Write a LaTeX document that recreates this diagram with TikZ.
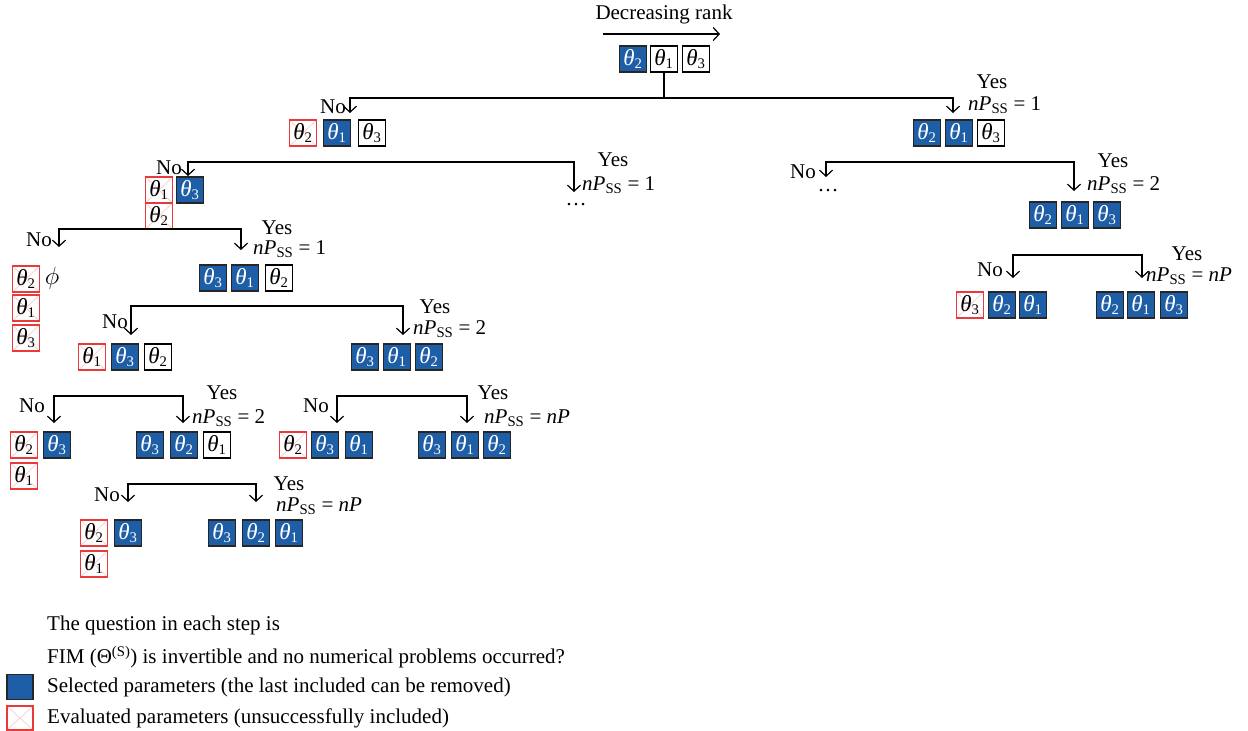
\documentclass[tikz,border=0pt]{standalone}
\usepackage{fontspec}
\setmainfont{Liberation Serif}
\usetikzlibrary{arrows.meta}
\definecolor{selblue}{RGB}{30,94,166}
\definecolor{evred}{RGB}{232,58,58}
\definecolor{evpink}{RGB}{250,196,196}
\newcommand\fsz{\fontsize{21}{25}\selectfont}
\newcommand\tht[1]{{\fontsize{23}{25}\selectfont\itshape θ\/}\textsubscript{#1}}
\newcommand\npss[1]{{\itshape nP}\textsubscript{SS}~=~#1}
\tikzset{
  bx/.style={minimum width=27pt, minimum height=26pt, inner sep=0pt, line width=1.1pt},
  sel/.style={bx, fill=selblue, draw=black!85, text=white},
  plain/.style={bx, draw=black},
  ev/.style={bx, draw=evred, path picture={\draw[evpink, line width=0.6pt]
      (path picture bounding box.south west) -- (path picture bounding box.north east)
      (path picture bounding box.north west) -- (path picture bounding box.south east);}},
  br/.style={line width=1.2pt, {Straight Barb[length=6pt,width=13pt]}-{Straight Barb[length=6pt,width=13pt]}},
  lbl/.style={inner sep=0pt},
  lgd/.style={inner sep=0pt, anchor=west},
}
\begin{document}
\begin{tikzpicture}[x=1pt,y=-1pt, every node/.style={font=\fsz}]
\useasboundingbox (0,0) rectangle (1248,731);

% title
\node[lbl] (title) at (664,14) {Decreasing rank};
\coordinate (ra) at (603,34);
\coordinate (rb) at (720,34);
\draw[line width=1.2pt, -{Straight Barb[length=6pt,width=13pt]}] (ra) -- (rb);

% top row
\node[sel]   (t2) at (633,59) {\tht{2}};
\node[plain] (t1) at (664,59) {\tht{1}};
\node[plain] (t3) at (696,59) {\tht{3}};

% branch 0
\coordinate (B0a) at (350,98); \coordinate (B0b) at (953,98);
\coordinate (B0l) at (350,113); \coordinate (B0r) at (953,113);
\draw[line width=1.2pt] (t1.south) -- (t1.south |- B0a);
\draw[br] (B0l) -- (B0a) -- (B0b) -- (B0r);
\node[lbl, anchor=east] (no0) at (346,107) {No};
\node[lbl] (yes0) at (992,82) {Yes};
\node[lbl, anchor=west] (np0) at (968,105) {\npss{1}};

% row A left
\node[ev]    (a2) at (303,133) {\tht{2}};
\node[sel]   (a1) at (337,133) {\tht{1}};
\node[plain] (a3) at (372,133) {\tht{3}};
% row A right
\node[sel]   (c2) at (927,133) {\tht{2}};
\node[sel]   (c1) at (959,133) {\tht{1}};
\node[plain] (c3) at (991,133) {\tht{3}};

% branch 1
\coordinate (B1a) at (188,162); \coordinate (B1b) at (574,162);
\coordinate (B1l) at (188,176); \coordinate (B1r) at (574,192);
\draw[br] (B1l) -- (B1a) -- (B1b) -- (B1r);
\node[lbl, anchor=east] (no1) at (182,168) {No};
\node[lbl] (yes1) at (613,160) {Yes};
\node[lbl, anchor=west] (np1) at (582,185) {\npss{1}};
\node[lbl] (dots1) at (576,205) {\dots};

\node[ev]  (d1) at (159,190) {\tht{1}};
\node[sel] (d3) at (190,190) {\tht{3}};
\node[ev]  (d2) at (159,216) {\tht{2}};

% branch 2
\coordinate (B2a) at (826,162); \coordinate (B2b) at (1074,162);
\coordinate (B2l) at (826,177); \coordinate (B2r) at (1074,191);
\draw[br] (B2l) -- (B2a) -- (B2b) -- (B2r);
\node[lbl, anchor=east] (no2) at (816,172) {No};
\node[lbl] (dots2) at (828,191) {\dots};
\node[lbl] (yes2) at (1113,161) {Yes};
\node[lbl, anchor=west] (np2) at (1087,185) {\npss{2}};

\node[sel] (e2) at (1043,215) {\tht{2}};
\node[sel] (e1) at (1075,215) {\tht{1}};
\node[sel] (e3) at (1107,215) {\tht{3}};

% branch 8
\coordinate (B8a) at (1013,255); \coordinate (B8b) at (1142,255);
\coordinate (B8l) at (1013,278); \coordinate (B8r) at (1142,278);
\draw[br] (B8l) -- (B8a) -- (B8b) -- (B8r);
\node[lbl, anchor=east] (no8) at (1003,270) {No};
\node[lbl] (yes8) at (1187,254) {Yes};
\node[lbl, anchor=west] (np8) at (1146,276) {\npss{\textit{nP}}};

\node[ev]  (p3) at (970,305) {\tht{3}};
\node[sel] (p2) at (1002,305) {\tht{2}};
\node[sel] (p1) at (1033,305) {\tht{1}};
\node[sel] (q2) at (1110,305) {\tht{2}};
\node[sel] (q1) at (1141,305) {\tht{1}};
\node[sel] (q3) at (1174,305) {\tht{3}};

% branch 3
\coordinate (B3a) at (59,229); \coordinate (B3b) at (241,229);
\coordinate (B3l) at (59,247); \coordinate (B3r) at (241,250);
\draw[br] (B3l) -- (B3a) -- (B3b) -- (B3r);
\node[lbl, anchor=east] (no3) at (52,240) {No};
\node[lbl] (yes3) at (277,228) {Yes};
\node[lbl, anchor=west] (np3) at (253,249) {\npss{1}};

\node[ev] (f2) at (26,279) {\tht{2}};
\node[lbl] (phi) at (52,278) {\fontsize{25}{27}\selectfont$\phi$};
\node[ev] (f1) at (26,308) {\tht{1}};
\node[ev] (f3) at (26,338) {\tht{3}};

\node[sel]   (g3) at (213,278) {\tht{3}};
\node[sel]   (g1) at (245,278) {\tht{1}};
\node[plain] (g2) at (279,278) {\tht{2}};

% branch 4
\coordinate (B4a) at (131,306); \coordinate (B4b) at (403,306);
\coordinate (B4l) at (131,335); \coordinate (B4r) at (403,335);
\draw[br] (B4l) -- (B4a) -- (B4b) -- (B4r);
\node[lbl, anchor=east] (no4) at (128,322) {No};
\node[lbl] (yes4) at (435,307) {Yes};
\node[lbl, anchor=west] (np4) at (413,329) {\npss{2}};

\node[ev]    (h1) at (92,357) {\tht{1}};
\node[sel]   (h3) at (125,357) {\tht{3}};
\node[plain] (h2) at (158,357) {\tht{2}};
\node[sel]   (i3) at (365,357) {\tht{3}};
\node[sel]   (i1) at (397,357) {\tht{1}};
\node[sel]   (i2) at (429,357) {\tht{2}};

% branch 5
\coordinate (B5a) at (54,396); \coordinate (B5b) at (183,396);
\coordinate (B5l) at (54,423); \coordinate (B5r) at (183,423);
\draw[br] (B5l) -- (B5a) -- (B5b) -- (B5r);
\node[lbl, anchor=east] (no5) at (45,406) {No};
\node[lbl] (yes5) at (222,393) {Yes};
\node[lbl, anchor=west] (np5) at (192,418) {\npss{2}};

\node[ev]    (j2) at (24,445) {\tht{2}};
\node[sel]   (j3) at (57,445) {\tht{3}};
\node[ev]    (j1) at (24,476) {\tht{1}};
\node[sel]   (k3) at (150,445) {\tht{3}};
\node[sel]   (k2) at (184,445) {\tht{2}};
\node[plain] (k1) at (217,445) {\tht{1}};

% branch 6
\coordinate (B6a) at (337,396); \coordinate (B6b) at (467,396);
\coordinate (B6l) at (337,423); \coordinate (B6r) at (467,423);
\draw[br] (B6l) -- (B6a) -- (B6b) -- (B6r);
\node[lbl, anchor=east] (no6) at (329,406) {No};
\node[lbl] (yes6) at (493,393) {Yes};
\node[lbl, anchor=west] (np6) at (484,418) {\npss{\textit{nP}}};

\node[ev]  (l2) at (293,445) {\tht{2}};
\node[sel] (l3) at (325,445) {\tht{3}};
\node[sel] (l1) at (359,445) {\tht{1}};
\node[sel] (m3) at (432,445) {\tht{3}};
\node[sel] (m1) at (465,445) {\tht{1}};
\node[sel] (m2) at (497,445) {\tht{2}};

% branch 7
\coordinate (B7a) at (128,484); \coordinate (B7b) at (256,484);
\coordinate (B7l) at (128,502); \coordinate (B7r) at (256,502);
\draw[br] (B7l) -- (B7a) -- (B7b) -- (B7r);
\node[lbl, anchor=east] (no7) at (120,495) {No};
\node[lbl] (yes7) at (289,484) {Yes};
\node[lbl, anchor=west] (np7) at (276,506) {\npss{\textit{nP}}};

\node[ev]  (n2) at (94,533) {\tht{2}};
\node[sel] (n3) at (128,533) {\tht{3}};
\node[ev]  (n1) at (94,564) {\tht{1}};
\node[sel] (o3) at (222,533) {\tht{3}};
\node[sel] (o2) at (256,533) {\tht{2}};
\node[sel] (o1) at (289,533) {\tht{1}};

% legend
\node[lgd] (q1txt) at (47,625) {The question in each step is};
\node[lgd] (q2txt) at (47,657) {FIM (Θ\textsuperscript{(S)}) is invertible and no numerical problems occurred?};
\node[sel, minimum width=26pt, minimum height=25pt] (lgsel) at (20,687) {};
\node[lgd] (seltxt) at (47,687) {Selected parameters (the last included can be removed)};
\node[ev, minimum width=26pt, minimum height=24pt] (lgev) at (20,718) {};
\node[lgd] (evtxt) at (47,718) {Evaluated parameters (unsuccessfully included)};
\end{tikzpicture}
\end{document}
